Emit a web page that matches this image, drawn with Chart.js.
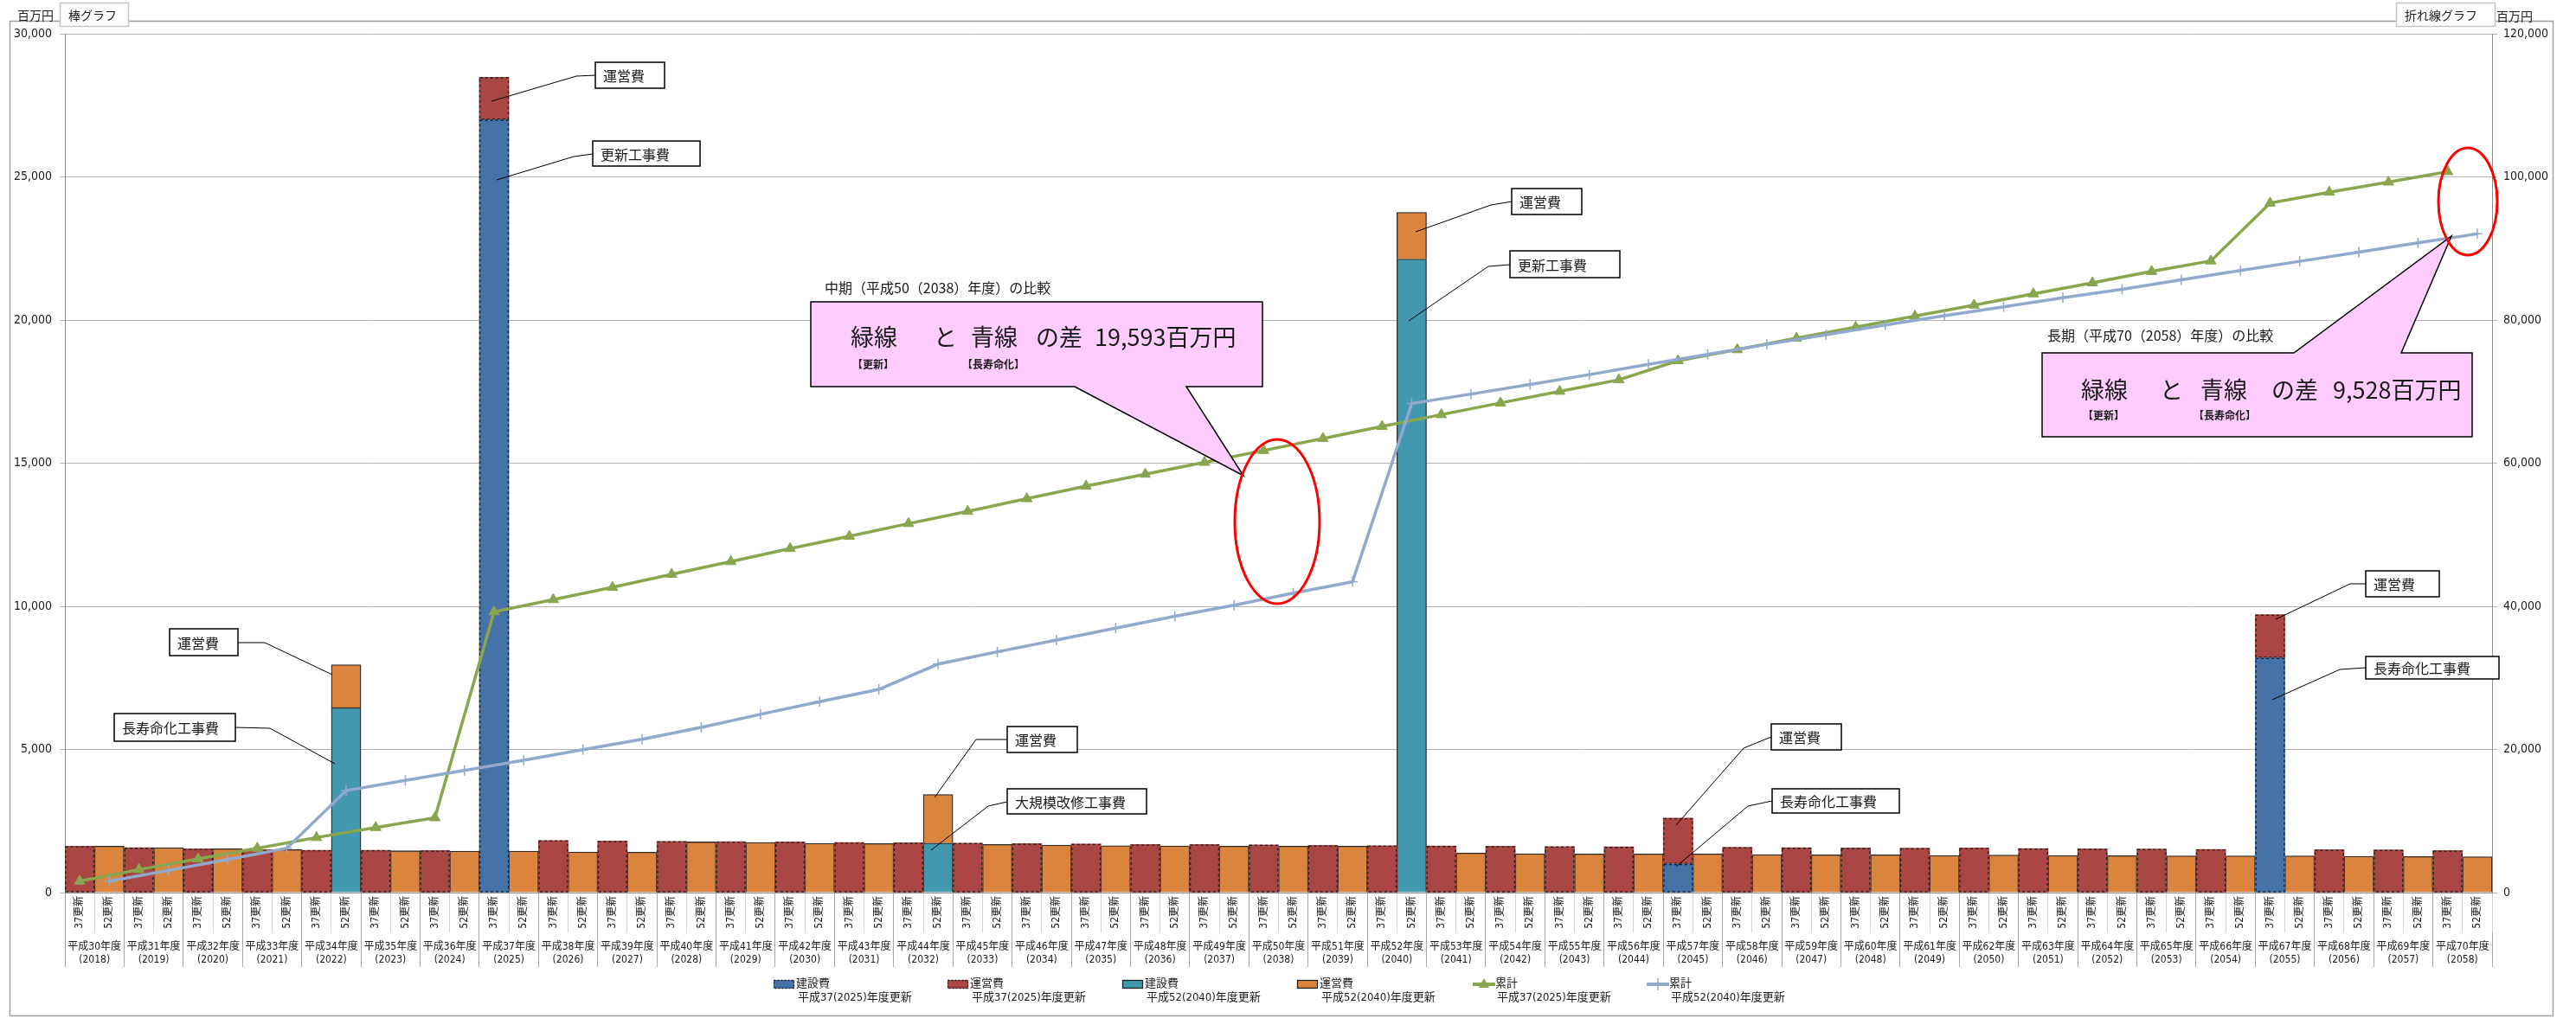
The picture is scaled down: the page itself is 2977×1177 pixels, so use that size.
<!DOCTYPE html>
<html lang="ja">
<head>
<meta charset="utf-8">
<title>更新・長寿命化 費用比較</title>
<script src="https://cdn.jsdelivr.net/npm/chart.js@4.4.1/dist/chart.umd.min.js"></script>
<style>
  html, body { margin: 0; padding: 0; background: #fff; }
  #wrap { position: relative; width: 2977px; height: 1177px; }
  canvas { display: block; }
</style>
</head>
<body>
<div id="wrap"><canvas id="costChart" width="2977" height="1177"></canvas></div>
<script>
// --- data (百万円) ---
const fiscalYears = [
  '平成30年度', '平成31年度', '平成32年度', '平成33年度', '平成34年度', '平成35年度', '平成36年度', '平成37年度',
  '平成38年度', '平成39年度', '平成40年度', '平成41年度', '平成42年度', '平成43年度', '平成44年度', '平成45年度',
  '平成46年度', '平成47年度', '平成48年度', '平成49年度', '平成50年度', '平成51年度', '平成52年度', '平成53年度',
  '平成54年度', '平成55年度', '平成56年度', '平成57年度', '平成58年度', '平成59年度', '平成60年度', '平成61年度',
  '平成62年度', '平成63年度', '平成64年度', '平成65年度', '平成66年度', '平成67年度', '平成68年度', '平成69年度',
  '平成70年度'
];
const westernYears = [
  '(2018)', '(2019)', '(2020)', '(2021)', '(2022)', '(2023)', '(2024)', '(2025)', '(2026)', '(2027)',
  '(2028)', '(2029)', '(2030)', '(2031)', '(2032)', '(2033)', '(2034)', '(2035)', '(2036)', '(2037)',
  '(2038)', '(2039)', '(2040)', '(2041)', '(2042)', '(2043)', '(2044)', '(2045)', '(2046)', '(2047)',
  '(2048)', '(2049)', '(2050)', '(2051)', '(2052)', '(2053)', '(2054)', '(2055)', '(2056)', '(2057)',
  '(2058)'
];
const caseLabels = ['37更新', '52更新'];

// 平成37(2025)年度更新
const construction37 = [
  null, null, null, null, null, null, null, 27000, null, null,
  null, null, null, null, null, null, null, null, null, null,
  null, null, null, null, null, null, null, 1000, null, null,
  null, null, null, null, null, null, null, 8200, null, null,
  null
];
const operation37 = [
  1620, 1570, 1530, 1500, 1480, 1480, 1470, 1480, 1820, 1800,
  1790, 1780, 1770, 1750, 1740, 1730, 1710, 1700, 1680, 1680,
  1670, 1650, 1640, 1630, 1620, 1610, 1600, 1600, 1580, 1570,
  1560, 1550, 1560, 1540, 1530, 1520, 1510, 1510, 1500, 1490,
  1470
];
// 平成52(2040)年度更新
const construction52 = [
  null, null, null, null, 6460, null, null, null, null, null,
  null, null, null, null, 1730, null, null, null, null, null,
  null, null, 22130, null, null, null, null, null, null, null,
  null, null, null, null, null, null, null, null, null, null,
  null
];
const operation52 = [
  1620, 1570, 1530, 1500, 1500, 1460, 1450, 1450, 1420, 1410,
  1770, 1750, 1720, 1710, 1700, 1680, 1660, 1640, 1630, 1620,
  1620, 1620, 1630, 1380, 1360, 1350, 1350, 1350, 1330, 1320,
  1320, 1300, 1310, 1300, 1290, 1280, 1280, 1280, 1270, 1260,
  1250
];
// 累計 (right axis)
const cumulative37 = [
  1610, 3220, 4710, 6200, 7690, 9090, 10460, 39230, 40940, 42650,
  44480, 46250, 48070, 49790, 51560, 53270, 55040, 56800, 58460, 60110,
  61770, 63450, 65130, 66780, 68410, 70040, 71650, 74320, 75860, 77460,
  79000, 80540, 82080, 83660, 85200, 86790, 88250, 96340, 97860, 99270,
  100730
];
const cumulative52 = [
  1610, 3100, 4630, 6200, 14250, 15690, 17060, 18500, 19980, 21420,
  23090, 24910, 26680, 28390, 31930, 33640, 35290, 36950, 38600, 40140,
  41850, 43430, 68340, 69650, 70990, 72370, 73800, 75200, 76600, 77950,
  79300, 80600, 81850, 83100, 84300, 85620, 86910, 88200, 89490, 90790,
  92040
];

const colors = {
  con37: '#4572A7', ope37: '#AA4643', con52: '#4198AF', ope52: '#DB843D',
  cum37: '#89A54E', cum52: '#92A8CD',
  grid: '#b3b3b3', axis: '#8c8c8c', text: '#1a1a1a', pink: '#FFCCFF'
};
const numFont = '"Liberation Sans Narrow", "DejaVu Sans Condensed", "Noto Sans CJK JP", sans-serif';
const jpFont = '"Noto Sans CJK JP", sans-serif';

// callout boxes: [x, y, w, h] and leader polyline (pixels on the page)
const callouts = [
  { text: '運営費', box: [688, 72, 80, 30], leader: [[688, 87], [666, 88], [568, 117]] },
  { text: '更新工事費', box: [685, 163, 124, 29], leader: [[685, 178], [663, 181], [574, 208]] },
  { text: '運営費', box: [196, 727, 79, 31], leader: [[275, 743], [306, 743], [384, 780]] },
  { text: '長寿命化工事費', box: [132, 825, 140, 32], leader: [[272, 841], [312, 842], [387, 883]] },
  { text: '運営費', box: [1164, 840, 81, 30], leader: [[1164, 855], [1128, 855], [1080, 922]] },
  { text: '大規模改修工事費', box: [1164, 912, 161, 29], leader: [[1164, 927], [1142, 932], [1076, 983]] },
  { text: '運営費', box: [1747, 218, 81, 30], leader: [[1747, 233], [1723, 237], [1636, 268]] },
  { text: '更新工事費', box: [1745, 290, 127, 31], leader: [[1745, 306], [1720, 308], [1628, 371]] },
  { text: '運営費', box: [2047, 837, 81, 30], leader: [[2047, 852], [2015, 865], [1937, 954]] },
  { text: '長寿命化工事費', box: [2048, 912, 147, 28], leader: [[2048, 926], [2020, 932], [1937, 1002]] },
  { text: '運営費', box: [2734, 660, 85, 30], leader: [[2734, 675], [2716, 675], [2630, 716]] },
  { text: '長寿命化工事費', box: [2734, 759, 154, 26], leader: [[2734, 772], [2704, 774], [2626, 809]] }
];

const comparisons = [
  {
    title: '中期（平成50（2038）年度）の比較', titleAt: [953, 333],
    box: [937, 349, 522, 98], tail: [[1242, 447], [1437, 550], [1371, 447]], tailSide: 'bottom',
    words: [['緑線', 983], ['と', 1079], ['青線', 1122], ['の差', 1197], ['19,593百万円', 1265]], wordsY: 390,
    tags: [['【更新】', 985], ['【長寿命化】', 1112]], tagsY: 421,
    ellipse: [1476, 603, 49, 95]
  },
  {
    title: '長期（平成70（2058）年度）の比較', titleAt: [2366, 388],
    box: [2360, 408, 497, 97], tail: [[2651, 408], [2833, 273], [2775, 408]], tailSide: 'top',
    words: [['緑線', 2405], ['と', 2496], ['青線', 2543], ['の差', 2625], ['9,528百万円', 2696]], wordsY: 451,
    tags: [['【更新】', 2407], ['【長寿命化】', 2535]], tagsY: 480,
    ellipse: [2852, 233, 34, 62]
  }
];

const legendX = [894, 1095, 1297, 1499, 1702, 1903];

document.addEventListener('DOMContentLoaded', function() {

    const categoryLabels = fiscalYears.flatMap(() => caseLabels);
    const yearLabels = fiscalYears.map((fy, i) => [fy, westernYears[i]]);
    const on37 = arr => arr.flatMap(v => [v, null]);
    const on52 = arr => arr.flatMap(v => [null, v]);

    // dashed outline for the 平成37 bars (Chart.js bars have no border dash)
    const dashedOutline = {
        id: 'dashedOutline',
        afterDatasetDraw(chart, args) {
            const ds = chart.data.datasets[args.index];
            if (!ds.dashed) return;
            const c = chart.ctx;
            c.save();
            c.strokeStyle = '#1e1e1e';
            c.lineWidth = 1.3;
            c.setLineDash([3, 3]);
            args.meta.data.forEach((bar, i) => {
                if (ds.data[i] == null) return;
                const p = bar.getProps(['x', 'y', 'base', 'width'], true);
                const top = Math.min(p.y, p.base);
                const h = Math.abs(p.base - p.y);
                c.strokeRect(p.x - p.width / 2 + 0.7, top + 0.7, p.width - 1.4, h - 1.4);
            });
            c.restore();
        }
    };

    function drawLegendIcon(c, ds, x, y) {
        c.save();
        if (ds.type === 'line') {
            c.strokeStyle = ds.borderColor;
            c.lineWidth = 4;
            c.beginPath(); c.moveTo(x, y); c.lineTo(x + 26, y); c.stroke();
            c.lineWidth = 1.5;
            c.fillStyle = ds.borderColor;
            c.beginPath();
            if (ds.pointStyle === 'triangle') {
                c.moveTo(x + 13, y - 7); c.lineTo(x + 19, y + 4); c.lineTo(x + 7, y + 4); c.closePath(); c.fill();
            } else {
                c.moveTo(x + 13, y - 7); c.lineTo(x + 13, y + 7); c.stroke();
            }
        } else {
            c.fillStyle = ds.backgroundColor;
            c.fillRect(x, y - 5, 24, 10);
            c.strokeStyle = '#222';
            c.lineWidth = 1.3;
            if (ds.dashed) c.setLineDash([2, 2]);
            c.strokeRect(x + 0.5, y - 4.5, 23, 9);
        }
        c.restore();
    }

    const decorations = {
        id: 'decorations',
        beforeDraw(chart) {
            const c = chart.ctx;
            c.save();
            c.fillStyle = '#fff';
            c.fillRect(0, 0, chart.width, chart.height);
            c.strokeStyle = '#a0a0a0';
            c.lineWidth = 1.5;
            c.strokeRect(11.5, 24.5, 2939, 1150);
            c.restore();
        },
        afterDraw(chart) {
            const c = chart.ctx;
            c.save();
            c.textBaseline = 'middle';
            c.fillStyle = colors.text;

            // axis headers
            c.font = '14px ' + jpFont;
            c.fillText('百万円', 20, 18);
            c.fillText('百万円', 2885, 19);
            [[69, 3, 79, 27, '棒グラフ'], [2769, 3, 114, 27, '折れ線グラフ']].forEach(([x, y, w, h, t]) => {
                c.fillStyle = '#fff';
                c.fillRect(x, y, w, h);
                c.strokeStyle = '#c4c4c4';
                c.lineWidth = 1.5;
                c.strokeRect(x + 0.5, y + 0.5, w, h);
                c.fillStyle = colors.text;
                c.fillText(t, x + 10, y + h / 2 + 1);
            });

            // callouts
            c.font = '16px ' + jpFont;
            callouts.forEach(item => {
                c.strokeStyle = '#000';
                c.lineWidth = 1;
                c.beginPath();
                item.leader.forEach(([x, y], i) => (i ? c.lineTo(x, y) : c.moveTo(x, y)));
                c.stroke();
                const [x, y, w, h] = item.box;
                c.fillStyle = '#fff';
                c.fillRect(x, y, w, h);
                c.lineWidth = 1.5;
                c.strokeRect(x, y, w, h);
                c.fillStyle = colors.text;
                c.fillText(item.text, x + 9, y + h / 2 + 1);
            });

            // comparison bubbles
            comparisons.forEach(cmp => {
                const [bx, by, bw, bh] = cmp.box;
                const [t0, tip, t1] = cmp.tail;
                c.beginPath();
                if (cmp.tailSide === 'bottom') {
                    c.moveTo(bx, by); c.lineTo(bx + bw, by); c.lineTo(bx + bw, by + bh);
                    c.lineTo(t1[0], t1[1]); c.lineTo(tip[0], tip[1]); c.lineTo(t0[0], t0[1]);
                    c.lineTo(bx, by + bh);
                } else {
                    c.moveTo(bx, by); c.lineTo(t0[0], t0[1]); c.lineTo(tip[0], tip[1]); c.lineTo(t1[0], t1[1]);
                    c.lineTo(bx + bw, by); c.lineTo(bx + bw, by + bh); c.lineTo(bx, by + bh);
                }
                c.closePath();
                c.fillStyle = colors.pink;
                c.fill();
                c.strokeStyle = '#000';
                c.lineWidth = 1.5;
                c.stroke();

                c.fillStyle = colors.text;
                c.font = '16px ' + jpFont;
                c.fillText(cmp.title, cmp.titleAt[0], cmp.titleAt[1]);
                c.font = '27px ' + jpFont;
                cmp.words.forEach(([t, x]) => c.fillText(t, x, cmp.wordsY));
                c.font = 'bold 12px ' + jpFont;
                cmp.tags.forEach(([t, x]) => c.fillText(t, x, cmp.tagsY));

                const [ex, ey, rx, ry] = cmp.ellipse;
                c.strokeStyle = '#ff0000';
                c.lineWidth = 3;
                c.beginPath();
                c.ellipse(ex, ey, rx, ry, 0, 0, Math.PI * 2);
                c.stroke();
            });

            // legend
            c.font = '13px ' + numFont;
            chart.data.datasets.forEach((ds, i) => {
                const x = legendX[i];
                drawLegendIcon(c, ds, x, 1138);
                c.fillStyle = colors.text;
                c.fillText(ds.label, x + 26, 1138);
                c.fillText(ds.caseText, x + 28, 1154);
            });
            c.restore();
        }
    };

    const ctx = document.getElementById('costChart').getContext('2d');
    new Chart(ctx, {
        type: 'bar',
        data: {
            labels: categoryLabels,
            datasets: [
                { label: '建設費', caseText: '平成37(2025)年度更新', data: on37(construction37), backgroundColor: colors.con37,
                  borderWidth: 0, dashed: true, stack: 'cost', yAxisID: 'y', order: 2 },
                { label: '運営費', caseText: '平成37(2025)年度更新', data: on37(operation37), backgroundColor: colors.ope37,
                  borderWidth: 0, dashed: true, stack: 'cost', yAxisID: 'y', order: 2 },
                { label: '建設費', caseText: '平成52(2040)年度更新', data: on52(construction52), backgroundColor: colors.con52,
                  borderColor: '#2a2a2a', borderWidth: 1.3, stack: 'cost', yAxisID: 'y', order: 2 },
                { label: '運営費', caseText: '平成52(2040)年度更新', data: on52(operation52), backgroundColor: colors.ope52,
                  borderColor: '#2a2a2a', borderWidth: 1.3, stack: 'cost', yAxisID: 'y', order: 2 },
                { type: 'line', label: '累計', caseText: '平成37(2025)年度更新', data: on37(cumulative37), yAxisID: 'y1',
                  borderColor: colors.cum37, backgroundColor: colors.cum37, borderWidth: 3.5, tension: 0, spanGaps: true,
                  pointStyle: 'triangle', pointRadius: 7, pointBorderWidth: 1, pointBackgroundColor: colors.cum37, order: 1 },
                { type: 'line', label: '累計', caseText: '平成52(2040)年度更新', data: on52(cumulative52), yAxisID: 'y1',
                  borderColor: colors.cum52, backgroundColor: colors.cum52, borderWidth: 3.5, tension: 0, spanGaps: true,
                  pointStyle: 'cross', pointRadius: 6, pointBorderWidth: 1.5, pointBorderColor: colors.cum52, order: 0 }
            ]
        },
        options: {
            responsive: false, animation: false, devicePixelRatio: 1, events: [],
            layout: { padding: { top: 39, bottom: 59, left: 0, right: 0 } },
            datasets: { bar: { categoryPercentage: 1, barPercentage: 1 } },
            scales: {
                x: {
                    stacked: true, offset: true,
                    grid: { offset: true, drawOnChartArea: false, tickLength: 46,
                            color: c => (c.index % 2 === 0 ? '#a6a6a6' : '#d4d4d4') },
                    border: { color: colors.axis },
                    ticks: { autoSkip: false, minRotation: 90, maxRotation: 90, padding: -42,
                             color: colors.text, font: { family: numFont, size: 12 } },
                    afterFit: s => { s.height = 46; }
                },
                x2: {
                    type: 'category', labels: yearLabels, position: 'bottom', offset: true,
                    grid: { offset: true, drawOnChartArea: false, tickLength: 40, color: '#a6a6a6' },
                    border: { display: false },
                    ticks: { autoSkip: false, minRotation: 0, maxRotation: 0, padding: -30,
                             color: colors.text, font: { family: numFont, size: 12 } },
                    afterFit: s => { s.height = 40; }
                },
                y: {
                    stacked: true, min: 0, max: 30000,
                    grid: { color: colors.grid, tickLength: 6 },
                    border: { color: colors.axis },
                    ticks: { stepSize: 5000, padding: 9, color: colors.text, font: { family: numFont, size: 14 },
                             callback: v => v.toLocaleString('en-US') },
                    afterFit: s => { s.width = 75; }
                },
                y1: {
                    position: 'right', min: 0, max: 120000,
                    grid: { drawOnChartArea: false, color: colors.grid, tickLength: 6 },
                    border: { color: colors.axis },
                    ticks: { stepSize: 20000, padding: 7, color: colors.text, font: { family: numFont, size: 14 },
                             callback: v => v.toLocaleString('en-US') },
                    afterFit: s => { s.width = 97; }
                }
            },
            plugins: { legend: { display: false }, tooltip: { enabled: false } }
        },
        plugins: [dashedOutline, decorations]
    });
});
</script>
</body>
</html>
